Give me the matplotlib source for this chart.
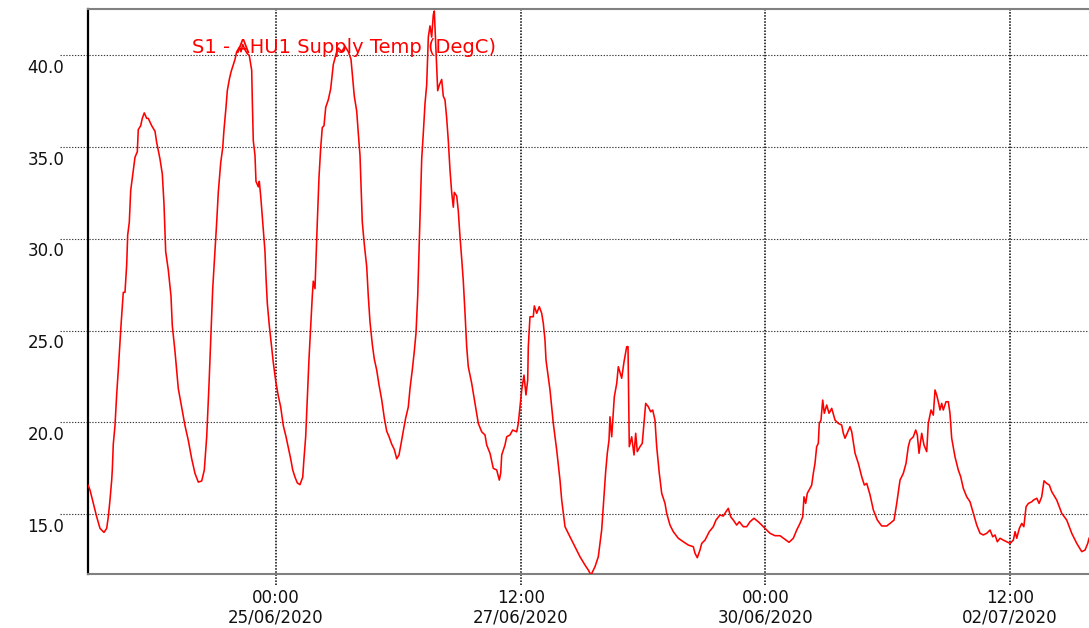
import matplotlib
matplotlib.use("Agg")
import matplotlib.pyplot as plt
import matplotlib.dates as mdates
import matplotlib.transforms as mtransforms
import pandas as pd

# ---------------- data ----------------
start_time = pd.Timestamp("2020-06-23 00:00")   # hours below are counted from here

hours = [
    1.90, 2.39, 3.20, 4.03, 4.84, 5.82, 6.48, 6.88, 7.29, 7.71,
    7.86, 8.10, 8.52, 8.94, 9.33, 9.99, 10.55, 10.97, 11.39, 11.63,
    12.03, 12.37, 13.01, 13.42, 13.99, 14.23, 14.82, 15.21, 15.70, 16.29,
    16.68, 17.52, 18.33, 18.74, 19.55, 20.12, 20.53, 20.95, 21.59, 22.25,
    22.57, 23.23, 24.04, 24.87, 25.68, 26.49, 27.33, 28.14, 28.95, 29.78,
    30.42, 31.01, 31.57, 32.06, 32.48, 33.04, 33.46, 33.85, 34.44, 34.93,
    35.25, 35.74, 36.06, 36.55, 36.96, 37.38, 37.95, 38.36, 39.00, 39.42,
    39.83, 40.40, 40.96, 41.45, 42.04, 42.19, 42.43, 42.85, 43.09, 43.66,
    43.90, 44.25, 44.74, 45.30, 45.55, 45.87, 46.36, 46.94, 47.34, 47.93,
    48.56, 49.15, 49.79, 50.45, 51.02, 51.60, 52.09, 52.66, 53.22, 53.88,
    54.55, 54.86, 55.28, 55.67, 56.09, 56.51, 56.90, 57.14, 57.56, 57.81,
    58.13, 58.54, 58.96, 59.35, 59.77, 60.19, 60.82, 61.41, 62.05, 62.88,
    63.28, 64.11, 64.92, 65.73, 66.39, 66.71, 67.20, 67.79, 68.18, 68.60,
    68.84, 69.16, 69.65, 70.24, 70.63, 71.05, 71.61, 72.10, 72.69, 73.26,
    73.92, 74.56, 75.14, 75.71, 76.37, 77.01, 77.60, 78.16, 78.65, 79.21,
    79.80, 80.44, 80.86, 81.42, 81.91, 82.33, 82.75, 83.07, 83.38, 83.73,
    84.12, 84.54, 84.95, 85.35, 85.76, 86.18, 86.57, 86.82, 87.16, 87.41,
    87.65, 88.04, 88.63, 89.02, 89.44, 89.86, 90.25, 90.67, 91.08, 91.48,
    91.72, 92.31, 92.70, 93.12, 93.54, 93.93, 94.35, 94.76, 95.15, 95.99,
    96.80, 97.21, 97.61, 98.44, 99.25, 99.67, 100.48, 101.28, 102.12, 102.76,
    103.10, 103.35, 104.15, 104.57, 105.38, 106.04, 107.02, 107.42, 108.25, 108.81,
    109.30, 109.72, 109.87, 110.28, 111.09, 111.34, 111.93, 112.56, 113.15, 113.55,
    113.96, 114.21, 114.77, 115.19, 116.00, 116.83, 117.64, 118.06, 118.87, 120.09,
    121.32, 122.55, 123.77, 124.58, 125.24, 126.22, 127.03, 127.86, 128.43, 128.84,
    129.24, 129.66, 129.90, 130.32, 130.71, 130.96, 131.55, 131.94, 132.77, 133.34,
    134.00, 134.32, 134.63, 135.22, 135.79, 136.20, 136.59, 137.25, 137.81, 138.30,
    138.65, 139.29, 139.88, 140.37, 140.93, 141.35, 141.99, 142.58, 143.39, 143.80,
    144.61, 145.42, 146.65, 147.88, 149.10, 150.33, 150.75, 151.31, 151.97, 152.39,
    153.20, 153.61, 154.25, 155.23, 155.89, 156.87, 157.68, 158.35, 158.91, 159.50,
    160.14, 160.97, 161.61, 162.59, 163.42, 164.23, 165.21, 166.27, 167.10, 167.91,
    169.14, 170.36, 171.59, 172.82, 173.80, 174.85, 175.69, 176.49, 177.16, 177.47,
    177.89, 178.28, 178.95, 179.36, 179.76, 180.17, 180.58, 180.98, 181.22, 181.64,
    182.06, 182.45, 183.04, 183.61, 184.27, 185.08, 185.89, 186.72, 187.12, 187.53,
    188.76, 189.18, 189.99, 190.80, 191.63, 192.27, 192.86, 193.67, 194.48, 195.46,
    196.53, 197.76, 198.57, 199.55, 200.21, 201.02, 201.83, 202.49, 203.05, 203.47,
    204.28, 204.87, 205.26, 205.68, 206.34, 206.90, 207.56, 207.95, 208.62, 209.18,
    209.60, 210.01, 210.50, 210.82, 211.24, 211.63, 212.29, 212.86, 213.27, 213.69,
    214.50, 215.31, 215.90, 216.54, 217.37, 218.18, 218.99, 219.83, 220.64, 221.45,
    222.28, 223.09, 223.75, 224.32, 224.88, 225.55, 226.35, 227.19, 228.00, 228.81,
    229.23, 229.64, 230.28, 230.87, 231.38, 231.93, 232.50, 233.33, 233.73, 234.56,
    235.12, 235.76, 236.33, 236.99, 237.63, 238.22, 239.45, 240.68, 241.90, 243.13,
    244.36, 245.58, 246.39, 247.05, 247.37,
]

temps = [
    16.58, 16.31, 15.58, 14.85, 14.22, 14.00, 14.22, 14.85, 15.76, 16.85,
    17.40, 18.81, 19.82, 21.54, 22.85, 25.27, 27.08, 27.08, 28.60, 30.20,
    30.91, 32.63, 33.74, 34.44, 34.74, 35.95, 36.16, 36.56, 36.86, 36.56,
    36.56, 36.16, 35.86, 35.25, 34.35, 33.53, 31.92, 29.30, 28.30, 26.88,
    25.27, 23.86, 21.84, 20.83, 19.82, 19.02, 18.01, 17.21, 16.74, 16.80,
    17.40, 19.22, 22.04, 24.86, 27.28, 29.30, 30.91, 32.53, 34.14, 34.95,
    35.95, 37.16, 38.07, 38.68, 39.08, 39.38, 39.78, 40.19, 40.43, 40.19,
    40.59, 40.29, 40.09, 39.99, 39.18, 37.57, 35.35, 34.54, 33.13, 32.83,
    33.13, 32.33, 30.91, 29.30, 27.89, 26.48, 25.27, 24.06, 23.25, 22.25,
    21.44, 20.83, 19.82, 19.22, 18.62, 18.01, 17.41, 17.01, 16.70, 16.60,
    17.01, 18.01, 19.22, 21.23, 23.45, 25.27, 26.88, 27.69, 27.28, 28.90,
    30.91, 33.33, 34.95, 36.06, 36.16, 37.16, 37.57, 38.17, 39.49, 40.19,
    40.39, 40.19, 40.49, 40.19, 39.78, 38.98, 37.77, 36.96, 35.75, 34.54,
    32.93, 30.91, 29.70, 28.49, 26.88, 25.47, 24.26, 23.45, 22.85, 22.04,
    21.23, 20.23, 19.52, 19.22, 18.81, 18.52, 18.01, 18.22, 18.81, 19.52,
    20.23, 20.83, 21.84, 22.85, 23.86, 24.86, 26.88, 29.30, 31.72, 34.35,
    35.75, 37.37, 38.38, 40.99, 41.60, 40.99, 42.20, 42.41, 40.59, 39.38,
    38.07, 38.37, 38.68, 37.77, 37.57, 36.56, 35.35, 33.74, 32.53, 31.72,
    32.53, 32.33, 31.52, 30.11, 28.90, 27.69, 25.95, 24.12, 23.03, 22.12,
    21.03, 20.49, 19.94, 19.48, 19.31, 18.76, 18.31, 17.49, 17.40, 16.85,
    17.22, 18.22, 18.76, 19.21, 19.31, 19.58, 19.48, 19.94, 21.76, 22.57,
    21.49, 22.30, 24.12, 25.75, 25.75, 26.34, 25.94, 26.30, 25.94, 25.39,
    24.48, 23.39, 22.48, 21.76, 19.94, 18.49, 16.85, 15.76, 14.31, 13.76,
    13.22, 12.67, 12.22, 11.95, 11.68, 12.13, 12.67, 14.13, 15.94, 17.31,
    18.31, 19.03, 20.30, 19.21, 20.49, 21.39, 22.12, 23.03, 22.40, 23.30,
    24.12, 24.12, 18.67, 19.21, 18.22, 19.40, 18.40, 18.67, 18.85, 20.12,
    21.03, 20.85, 20.57, 20.67, 20.12, 18.67, 17.22, 16.13, 15.58, 15.04,
    14.40, 14.04, 13.68, 13.49, 13.31, 13.22, 12.86, 12.62, 13.04, 13.40,
    13.58, 13.76, 14.04, 14.31, 14.67, 14.95, 14.89, 15.13, 15.31, 14.85,
    14.67, 14.40, 14.58, 14.31, 14.31, 14.58, 14.77, 14.58, 14.40, 14.22,
    13.95, 13.82, 13.82, 13.62, 13.46, 13.68, 14.13, 14.49, 14.85, 15.94,
    15.58, 16.13, 16.40, 16.58, 17.22, 17.76, 18.67, 18.85, 19.94, 20.12,
    21.21, 20.49, 20.94, 20.49, 20.76, 20.12, 19.94, 19.85, 19.40, 19.13,
    19.76, 19.48, 18.31, 17.76, 17.03, 16.58, 16.67, 16.04, 15.22, 14.67,
    14.35, 14.35, 14.49, 14.67, 15.58, 16.85, 17.22, 17.76, 18.67, 19.03,
    19.21, 19.58, 19.31, 18.31, 19.40, 18.76, 18.40, 19.94, 20.67, 20.39,
    21.76, 21.49, 21.03, 20.67, 21.03, 20.67, 21.12, 21.12, 20.49, 19.13,
    18.12, 17.40, 17.03, 16.40, 15.94, 15.67, 15.04, 14.40, 13.95, 13.86,
    13.95, 14.13, 13.76, 13.86, 13.49, 13.68, 13.58, 13.49, 13.40, 13.58,
    14.04, 13.68, 14.22, 14.49, 14.31, 15.40, 15.58, 15.67, 15.76, 15.86,
    15.58, 15.94, 16.81, 16.67, 16.58, 16.22, 15.76, 15.04, 14.67, 13.95,
    13.40, 12.95, 13.04, 13.40, 13.68,
]

series_label = "S1 - AHU1 Supply Temp (DegC)"
y_ticks = [15.0, 20.0, 25.0, 30.0, 35.0, 40.0]
y_tick_labels = ["15.0", "20.0", "25.0", "30.0", "35.0", "40.0"]
x_tick_hours = [48, 108, 168, 228]          # 25/06 00:00, 27/06 12:00, 30/06 00:00, 02/07 12:00
x_range_hours = [1.90, 247.36]
y_range = [11.76, 42.52]

# ---------------- figure ----------------
W, H = 1089, 628
fig = plt.figure(figsize=(W / 100, H / 100), dpi=100)
fig.patch.set_facecolor("white")

ax_left, ax_right, ax_top, ax_bottom = 88, 1089, 9, 573.5
ax = fig.add_axes([ax_left / W, 1 - ax_bottom / H,
                   (ax_right - ax_left) / W, (ax_bottom - ax_top) / H])

times = (start_time + pd.to_timedelta(hours, unit="h")).to_numpy()
ax.plot(times, temps, color="#ff0000", lw=1.15, zorder=3)

xlim = (start_time + pd.to_timedelta(x_range_hours, unit="h")).to_numpy()
ax.set_xlim(xlim[0], xlim[1])
ax.set_ylim(*y_range)

xt = (start_time + pd.to_timedelta(x_tick_hours, unit="h")).to_numpy()
ax.set_xticks(xt)
ax.xaxis.set_major_formatter(mdates.DateFormatter("%H:%M\n%d/%m/%Y"))
ax.set_yticks(y_ticks)

ax.tick_params(axis="both", length=0, labelsize=12, labelcolor="#111111")
ax.tick_params(axis="y", pad=17.0)
ax.tick_params(axis="x", pad=11.5)
ax.set_yticklabels(y_tick_labels, verticalalignment="top")
shift_down = mtransforms.ScaledTranslation(0, -3.5 / 100, fig.dpi_scale_trans)
for lbl in ax.get_yticklabels():
    lbl.set_transform(lbl.get_transform() + shift_down)
for lbl in ax.get_xticklabels():
    lbl.set_linespacing(1.1)

# dotted grid lines that run a little past the axes, like tick marks
ext_x = 28 / (ax_right - ax_left)
ext_y = 11 / (ax_bottom - ax_top)
for v in y_ticks:
    ax.axhline(v, xmin=-ext_x, xmax=1, color="#3a3a3a", lw=0.8,
               ls=(0, (1.2, 1.4)), clip_on=False, zorder=1)
for t in xt:
    ax.axvline(t, ymin=-ext_y, ymax=1, color="#000000", lw=1.1,
               ls=(0, (1, 1)), clip_on=False, zorder=1)

ax.spines["right"].set_visible(False)
ax.spines["left"].set_color("black")
ax.spines["left"].set_linewidth(1.6)
ax.spines["bottom"].set_color("#808080")
ax.spines["bottom"].set_linewidth(1.5)
ax.spines["top"].set_color("#808080")
ax.spines["top"].set_linewidth(1.5)

fig.text(344.5 / W, 1 - 47.5 / H, series_label, ha="center", va="center",
         color="#ff0000", fontsize=14, family="DejaVu Sans", zorder=5)

fig.savefig("out.png", dpi=100, facecolor="white")
